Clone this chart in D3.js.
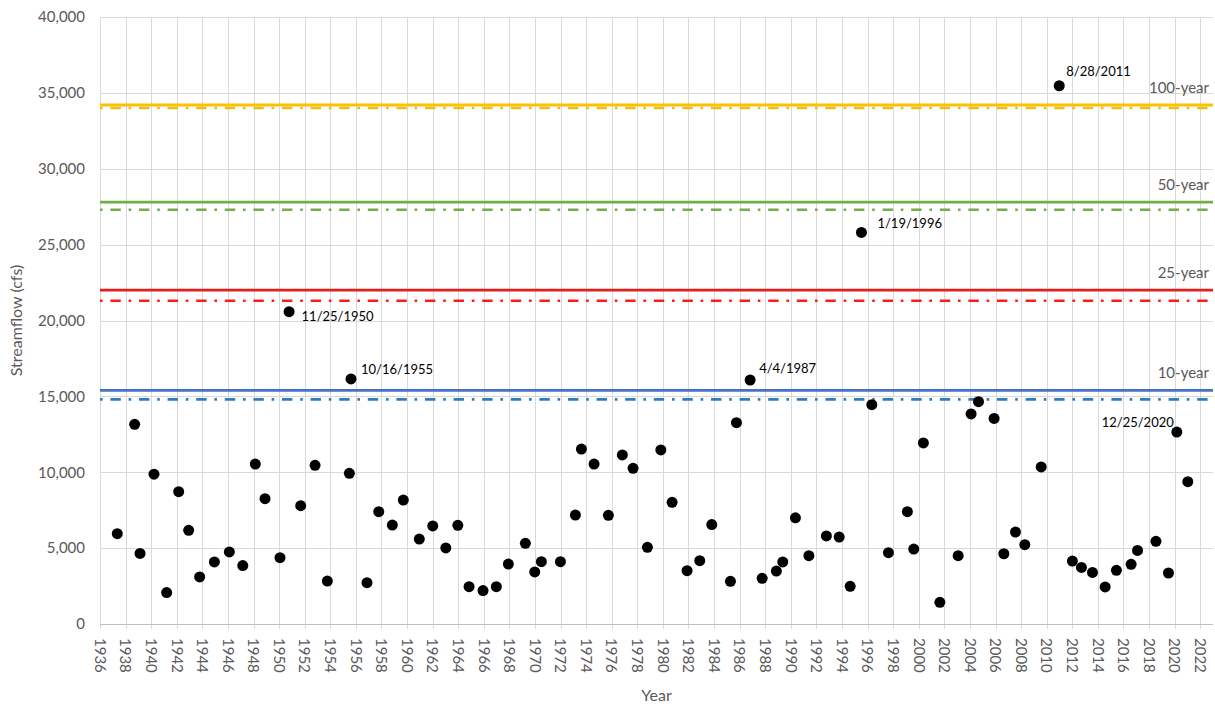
<!DOCTYPE html>
<html>
<head>
<meta charset="utf-8">
<script src="https://cdn.jsdelivr.net/npm/d3@7"></script>
<style>
  body { margin: 0; background: #fff; }
  svg { display: block; }
  text { font-family: Lato, "Open Sans", "Noto Sans", sans-serif; }
</style>
</head>
<body>
<svg id="chart" width="1215" height="704"></svg>
<script>
// ---- Data ----
const years = [
  1937.35, 1938.71, 1939.13, 1940.22, 1941.21, 1942.15, 1942.93, 1943.79, 1944.94, 1946.11,
  1947.16, 1948.14, 1948.90, 1950.07, 1950.78, 1951.69, 1952.81, 1953.77, 1955.49, 1955.62,
  1956.87, 1957.79, 1958.85, 1959.71, 1960.96, 1962.01, 1963.03, 1963.97, 1964.85, 1965.94,
  1966.98, 1967.92, 1969.25, 1969.98, 1970.50, 1971.99, 1973.16, 1973.63, 1974.62, 1975.74,
  1976.83, 1977.67, 1978.79, 1979.84, 1980.72, 1981.89, 1982.88, 1983.82, 1985.28, 1985.75,
  1986.82, 1987.76, 1988.87, 1989.37, 1990.36, 1991.41, 1992.78, 1993.78, 1994.64, 1995.52,
  1996.33, 1997.63, 1999.11, 1999.61, 2000.36, 2001.65, 2003.08, 2004.09, 2004.67, 2005.89,
  2006.65, 2007.56, 2008.29, 2009.57, 2010.98, 2012.01, 2012.72, 2013.58, 2014.57, 2015.45,
  2016.60, 2017.10, 2018.54, 2019.52, 2020.17, 2021.03
];
const flows = [
  5950, 13160, 4650, 9870, 2070, 8720, 6170, 3100, 4090, 4750,
  3850, 10540, 8260, 4370, 20580, 7800, 10460, 2830, 9930, 16150,
  2720, 7400, 6520, 8170, 5600, 6460, 5010, 6500, 2460, 2200,
  2460, 3950, 5320, 3430, 4110, 4110, 7180, 11530, 10540, 7160,
  11140, 10260, 5050, 11470, 8020, 3510, 4170, 6550, 2810, 13270,
  16080, 3010, 3490, 4090, 7000, 4500, 5800, 5730, 2480, 25800,
  14450, 4700, 7400, 4940, 11930, 1430, 4500, 13840, 14650, 13550,
  4630, 6060, 5230, 10350, 35470, 4150, 3730, 3400, 2440, 3540,
  3930, 4850, 5450, 3360, 12650, 9380
];

// Annotated peaks (date text, and the year of the point it labels)
const annoText = ["11/25/1950", "10/16/1955", "4/4/1987", "1/19/1996", "8/28/2011", "12/25/2020"];
const annoYear = [1950.78, 1955.62, 1986.82, 1995.52, 2010.98, 2020.17];

// Return-period flows
const returnLabels = ["10-year", "25-year", "50-year", "100-year"];
const solidFlows   = [15400, 22000, 27800, 34200];
const dashedFlows  = [14800, 21300, 27300, 34000];

// Axis ticks
const xTicks = [1936,1938,1940,1942,1944,1946,1948,1950,1952,1954,1956,1958,1960,1962,1964,1966,
  1968,1970,1972,1974,1976,1978,1980,1982,1984,1986,1988,1990,1992,1994,1996,1998,2000,2002,
  2004,2006,2008,2010,2012,2014,2016,2018,2020,2022];
const yTicks = [0, 5000, 10000, 15000, 20000, 25000, 30000, 35000, 40000];

// ---- Styles / layout ----
const solidColors  = ["#4472C4", "#E21F1F", "#70AD47", "#FFC000"];
const dashedColors = ["#2E7EBF", "#FF1A1A", "#76AC4C", "#E3C21B"];
// per-annotation placement: dx, dy from point, anchor
const annoLayout = [
  {dx: 12.5, dy: 9.5, anchor: "start"},
  {dx: 10, dy: -5, anchor: "start"},
  {dx: 9, dy: -7, anchor: "start"},
  {dx: 16, dy: -4, anchor: "start"},
  {dx: 7, dy: -10, anchor: "start"},
  {dx: -3, dy: -5, anchor: "end"}
];

const L = 100, R = 1213, T = 17, B = 624;
const svg = d3.select("#chart");

const x = d3.scaleLinear().domain([1936, 2023]).range([L, R]);
const y = d3.scaleLinear().domain([0, 40000]).range([B, T]);

const gridColor = "#d9d9d9";
const textColor = "#595959";

// vertical gridlines + ticks
svg.append("g").selectAll("line").data(xTicks).join("line")
  .attr("x1", d => Math.round(x(d)) + 0.5).attr("x2", d => Math.round(x(d)) + 0.5)
  .attr("y1", T).attr("y2", B + 5)
  .attr("stroke", gridColor).attr("stroke-width", 1);

// horizontal gridlines
svg.append("g").selectAll("line").data(yTicks).join("line")
  .attr("x1", L).attr("x2", R)
  .attr("y1", d => Math.round(y(d)) + 0.5).attr("y2", d => Math.round(y(d)) + 0.5)
  .attr("stroke", d => d === 0 ? "#bfbfbf" : gridColor).attr("stroke-width", 1);

// y tick labels
svg.append("g").selectAll("text").data(yTicks).join("text")
  .attr("x", L - 15).attr("y", d => y(d)).attr("dy", "0.35em")
  .attr("text-anchor", "end").attr("font-size", 15).attr("fill", textColor)
  .text(d => d3.format(",")(d));

// x tick labels (rotated)
svg.append("g").selectAll("text").data(xTicks).join("text")
  .attr("transform", d => `translate(${x(d)},${B + 14}) rotate(90)`)
  .attr("dy", "0.35em").attr("text-anchor", "start")
  .attr("font-size", 15).attr("fill", textColor)
  .text(d => d);

// axis titles
svg.append("text").attr("x", (L + R) / 2).attr("y", 701)
  .attr("text-anchor", "middle").attr("font-size", 16).attr("fill", textColor).text("Year");
svg.append("text").attr("transform", `translate(22,${(T + B) / 2}) rotate(-90)`)
  .attr("text-anchor", "middle").attr("font-size", 16).attr("fill", textColor).text("Streamflow (cfs)");

// return-period lines
const idx = d3.range(returnLabels.length);
svg.append("g").selectAll("line").data(idx).join("line")
  .attr("x1", L).attr("x2", R)
  .attr("y1", i => y(dashedFlows[i])).attr("y2", i => y(dashedFlows[i]))
  .attr("stroke", i => dashedColors[i]).attr("stroke-width", 2.6)
  .attr("stroke-dasharray", "2.6,7.8,10.4,7.8");
svg.append("g").selectAll("line").data(idx).join("line")
  .attr("x1", L).attr("x2", R)
  .attr("y1", i => y(solidFlows[i])).attr("y2", i => y(solidFlows[i]))
  .attr("stroke", i => solidColors[i]).attr("stroke-width", 2.8);
svg.append("g").selectAll("text").data(idx).join("text")
  .attr("x", R - 4).attr("y", i => y(solidFlows[i]) - 12)
  .attr("text-anchor", "end").attr("font-size", 15).attr("fill", textColor)
  .text(i => returnLabels[i]);

// points
const pts = years.map((yr, i) => ({yr, q: flows[i]}));
svg.append("g").selectAll("circle").data(pts).join("circle")
  .attr("cx", d => x(d.yr)).attr("cy", d => y(d.q)).attr("r", 5.5)
  .attr("fill", "#000");

// annotations
svg.append("g").selectAll("text").data(annoText).join("text")
  .each(function(t, i) {
    const j = years.indexOf(annoYear[i]);
    const lay = annoLayout[i];
    d3.select(this)
      .attr("x", x(years[j]) + lay.dx).attr("y", y(flows[j]) + lay.dy)
      .attr("text-anchor", lay.anchor);
  })
  .attr("font-size", 13).attr("fill", "#000")
  .text(t => t);
</script>
</body>
</html>
